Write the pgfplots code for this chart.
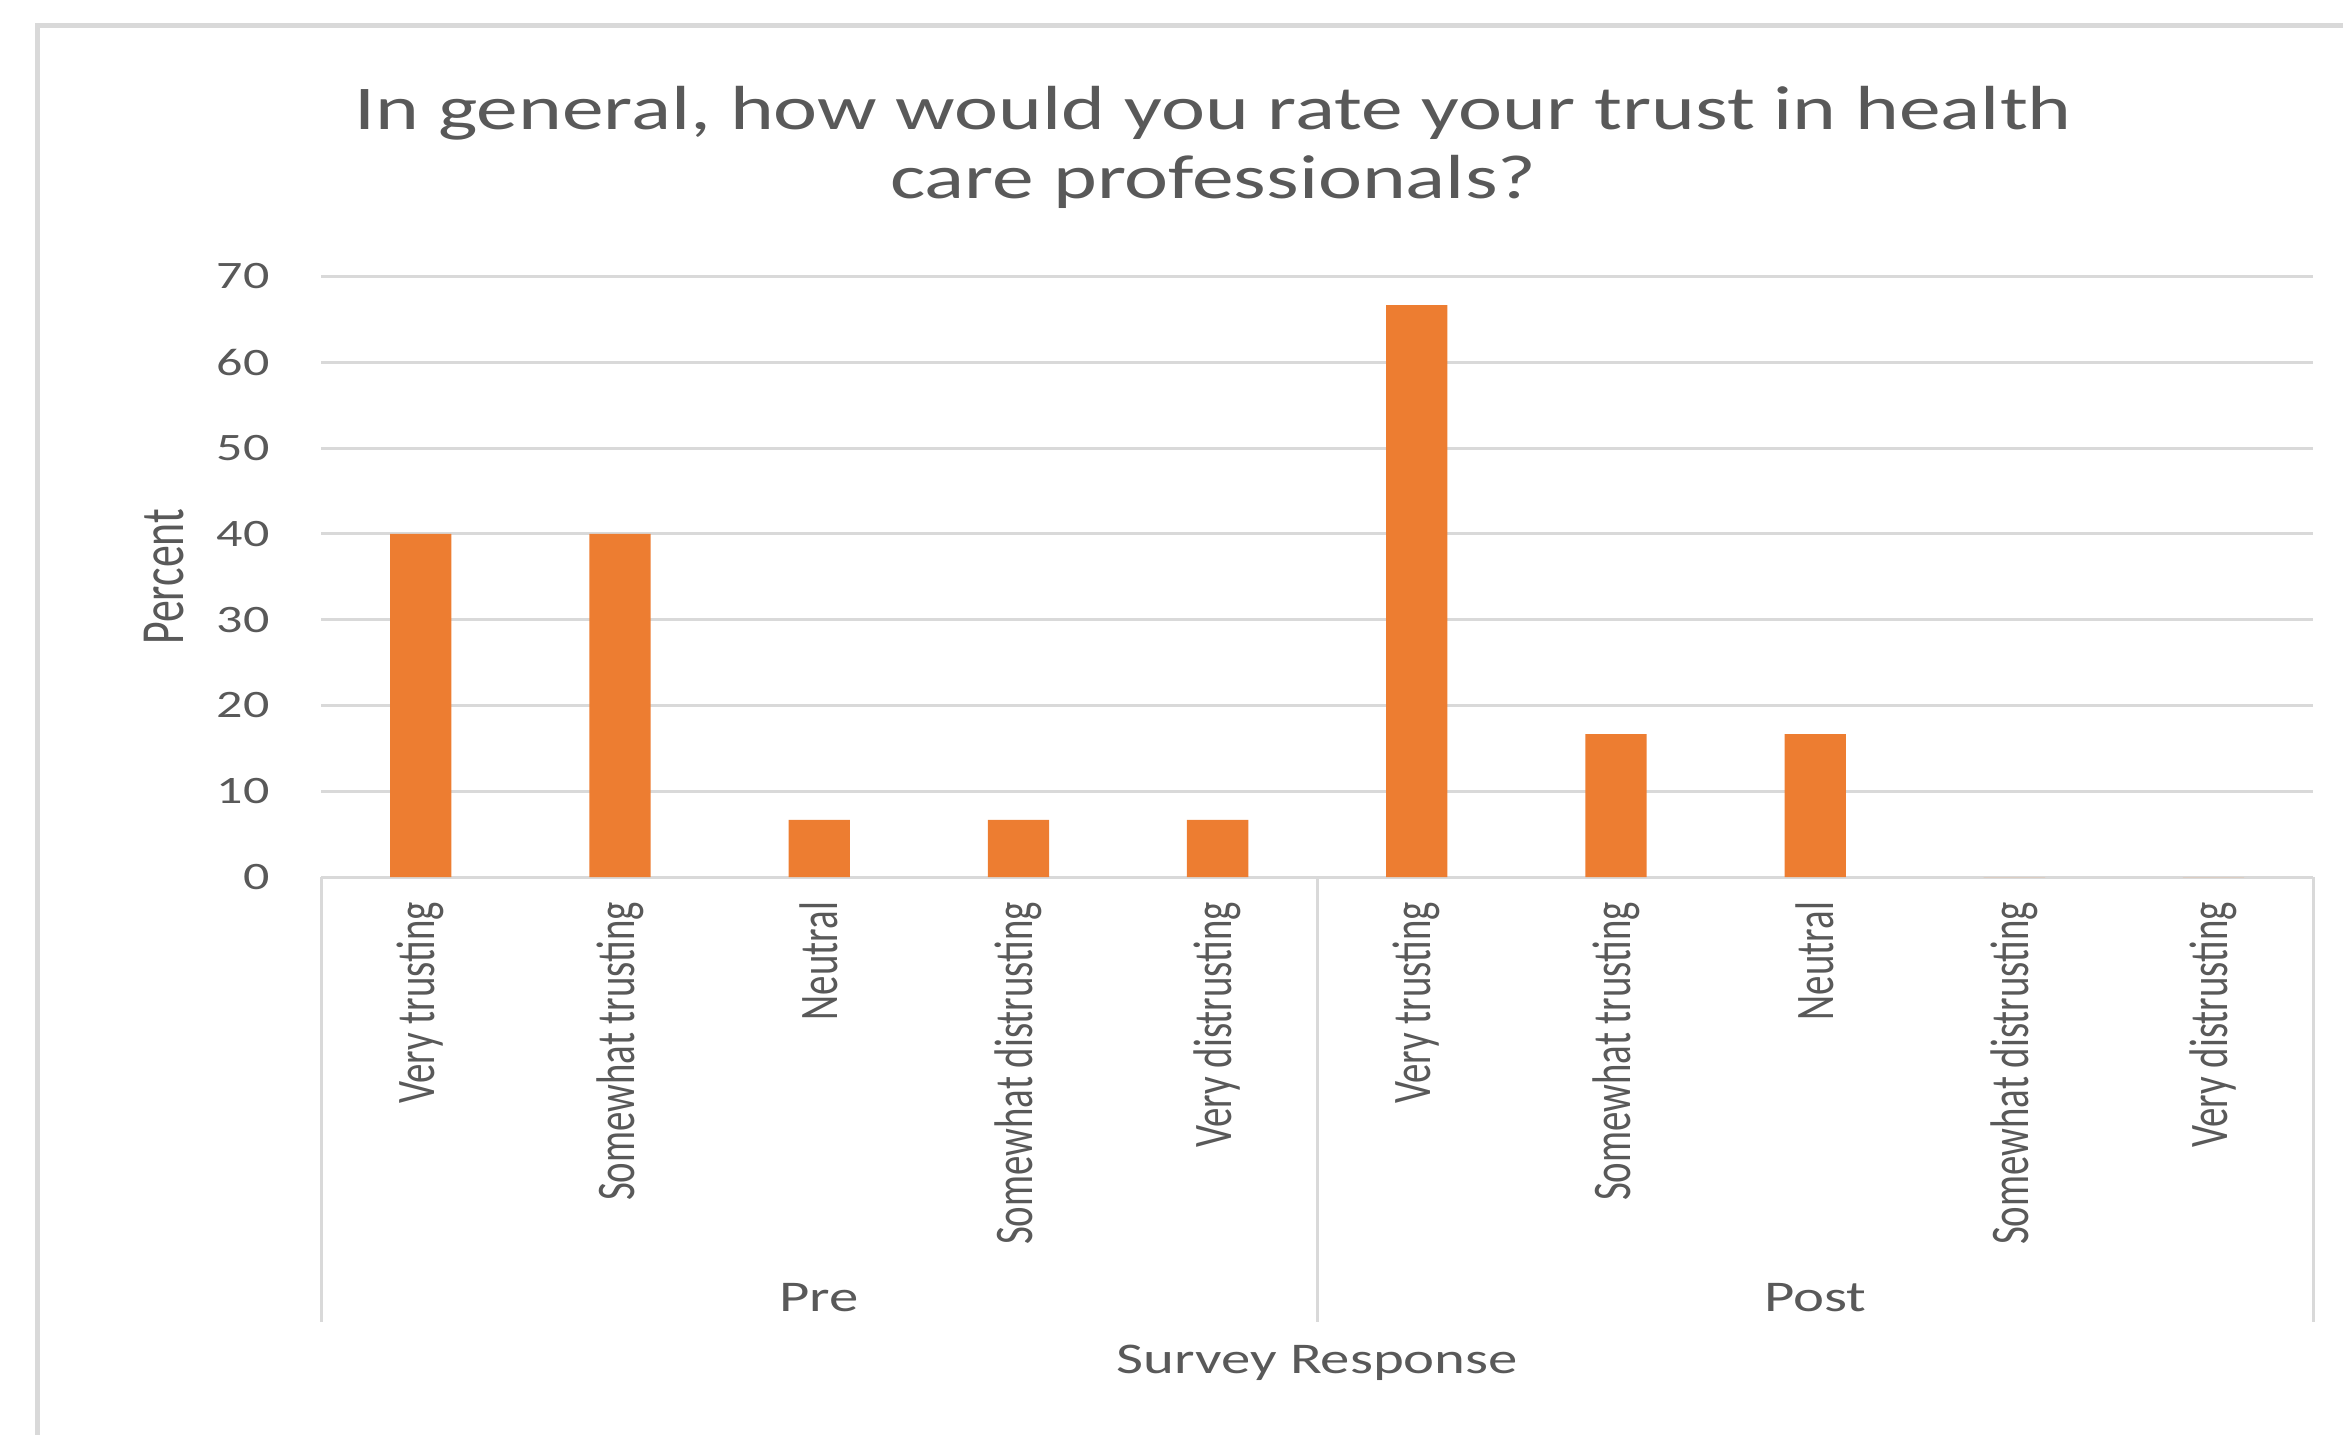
\documentclass[border=0pt]{standalone}
\usepackage{pgfplots}
\pgfplotsset{compat=1.18}
\usepackage{fontspec}
\setmainfont{Carlito}
\newfontfamily\hfont[FakeStretch=1.34]{Carlito}
\definecolor{barorange}{HTML}{ED7D31}
\definecolor{gridgray}{HTML}{D9D9D9}
\definecolor{txtgray}{HTML}{595959}
\newcommand{\vl}[1]{\scalebox{1}[1.4]{#1}}
\begin{document}
\begin{tikzpicture}[x=1pt,y=1pt]
\useasboundingbox (-64.5,-111.9) rectangle (405.9,176.1);
\draw[gridgray, line width=0.9pt] (-57,-130) -- (-57,171) -- (430,171);
\begin{axis}[
  at={(0,0)}, anchor=south west,
  scale only axis, width=399.9pt, height=120.6pt,
  ybar, bar width=12.3pt,
  xmin=-0.5, xmax=9.5, ymin=0, ymax=70,
  ytick={0,10,...,70},
  xtick={0,...,9},
  xticklabels={\vl{Very trusting},\vl{Somewhat trusting},\vl{Neutral},\vl{Somewhat distrusting},\vl{Very distrusting},\vl{Very trusting},\vl{Somewhat trusting},\vl{Neutral},\vl{Somewhat distrusting},\vl{Very distrusting}},
  ymajorgrids, grid style={gridgray, line width=0.6pt},
  axis x line*=bottom, axis y line*=left,
  y axis line style={draw=none},
  x axis line style={gridgray, line width=0.6pt},
  major tick length=0pt, tick style={draw=none},
  /pgf/number format/assume math mode=true,
  yticklabel style={font=\hfont\fontsize{7.8}{9}\selectfont, text=txtgray, inner sep=0pt, anchor=east, xshift=-10.2pt},
  xticklabel style={font=\fontsize{7.8}{9}\selectfont, text=txtgray, inner sep=0pt, yshift=-4.8pt, rotate=90, anchor=east},
  clip=false,
]
\addplot[fill=barorange, draw=none] coordinates {
  (0,40) (1,40) (2,6.67) (3,6.67) (4,6.67)
  (5,66.67) (6,16.67) (7,16.67) (8,0) (9,0)
};
\draw[gridgray, line width=0.6pt] (axis cs:-0.5,0) -- ([yshift=-89.4pt]axis cs:-0.5,0);
\draw[gridgray, line width=0.6pt] (axis cs:4.5,0) -- ([yshift=-89.4pt]axis cs:4.5,0);
\draw[gridgray, line width=0.6pt] (axis cs:9.5,0) -- ([yshift=-89.4pt]axis cs:9.5,0);
\node[anchor=base, text=txtgray, font=\hfont\fontsize{8.8}{10}\selectfont, inner sep=0pt] at ([yshift=-87.3pt]axis cs:2,0) {Pre};
\node[anchor=base, text=txtgray, font=\hfont\fontsize{8.8}{10}\selectfont, inner sep=0pt] at ([yshift=-87.3pt]axis cs:7,0) {Post};
\node[anchor=base, text=txtgray, font=\hfont\fontsize{8.8}{10}\selectfont, inner sep=0pt] at ([yshift=-99.6pt]axis cs:4.5,0) {Survey Response};
\node[rotate=90, anchor=center, text=txtgray, font=\fontsize{8.8}{10}\selectfont, inner sep=0pt] at ([xshift=-31.5pt]rel axis cs:0,0.5) {\vl{Percent}};
\end{axis}
\node[anchor=base, text=txtgray, font=\hfont\fontsize{12.5}{14}\selectfont, inner sep=0pt] at (179.1,150) {In general, how would you rate your trust in health};
\node[anchor=base, text=txtgray, font=\hfont\fontsize{12.5}{14}\selectfont, inner sep=0pt] at (179.1,136.2) {care professionals?};
\end{tikzpicture}
\end{document}
